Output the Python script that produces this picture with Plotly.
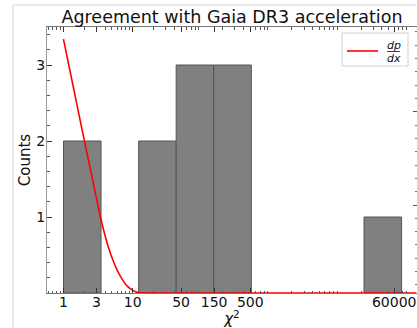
import plotly.graph_objects as go
import numpy as np

# ---- data ----
tick_vals = [1, 3, 10, 50, 150, 500, 60000]
tick_text = ["1", "3", "10", "50", "150", "500", "60000"]
# logarithmic bin edges (chi^2)
bin_edges = [1.0, 3.49, 12.2, 42.5, 148, 518, 1808, 6310, 22000, 76800]
bin_counts = [2, 0, 2, 3, 3, 0, 0, 0, 1]

curve_x = [1.0, 1.366, 1.866, 2.55, 3.07, 3.48, 3.95, 4.47, 5.19, 6.11, 7.18, 8.34, 10.07, 12.1, 14.6, 125000]
curve_y = [3.34, 2.74, 2.14, 1.55, 1.2, 0.97, 0.77, 0.6, 0.43, 0.28, 0.17, 0.09, 0.035, 0.005, 0.0, 0.0]

W, H = 417, 328
L, R, T, B = 47, 0, 27, 35
FONT = "DejaVu Sans"

fig = go.Figure()

# histogram bars drawn as filled rectangles between log edges
for lo, hi, c in zip(bin_edges[:-1], bin_edges[1:], bin_counts):
    if c > 0:
        fig.add_trace(go.Scatter(
            x=[lo, lo, hi, hi, lo], y=[0, c, c, 0, 0], mode="lines", fill="toself",
            fillcolor="#808080", line=dict(color="#555555", width=1),
            showlegend=False, hoverinfo="skip"))

fig.add_trace(go.Scatter(
    x=curve_x, y=curve_y, mode="lines", line=dict(color="red", width=1.6, shape="spline", smoothing=0.6),
    showlegend=False, hoverinfo="skip"))

# empty trace to show right-hand tick axis
fig.add_trace(go.Scatter(x=[None], y=[None], yaxis="y2", showlegend=False, hoverinfo="skip"))

minor_x = [k * 10.0 ** n for n in range(-1, 6) for k in range(2, 10)]

fig.update_layout(
    width=W, height=H, margin=dict(l=L, r=R, t=T, b=B, autoexpand=False),
    paper_bgcolor="white", plot_bgcolor="white",
    font=dict(family=FONT, size=14, color="#111"),
    title=dict(text="Agreement with Gaia DR3 acceleration", x=0.5, xref="paper",
               y=1 - 17 / H, yref="container", yanchor="middle", xanchor="center",
               font=dict(size=17.5, family=FONT, color="#111")),
    xaxis=dict(type="log", range=[-0.238, 5.108], tickmode="array", tickvals=tick_vals, ticktext=tick_text,
               ticks="inside", ticklen=5, tickcolor="#333", showgrid=False, zeroline=False,
               showline=True, linecolor="#777", linewidth=1, mirror="ticks", automargin=False,
               tickfont=dict(size=14), ticklabelstandoff=-4, ticklabeloverflow="allow",
               minor=dict(tickmode="array", tickvals=minor_x, ticks="inside", ticklen=2.5, tickcolor="#555"),
               title=dict(text="<i>χ</i><sup>2</sup>", standoff=2, font=dict(size=15))),
    yaxis=dict(range=[0, 3.5], tickvals=[1, 2, 3], ticks="inside", ticklen=5, tickcolor="#333",
               showgrid=False, zeroline=False, showline=True, linecolor="#999", linewidth=1,
               tickfont=dict(size=14), automargin=False, ticklabelstandoff=-2,
               minor=dict(dtick=0.2, ticks="inside", ticklen=2.5, tickcolor="#555"),
               title=dict(text="Counts", standoff=2, font=dict(size=15))),
    yaxis2=dict(overlaying="y", side="right", range=[0, H - T - B], showgrid=False, zeroline=False,
                showline=False, showticklabels=False, ticks="inside", ticklen=4, tickcolor="#555",
                tick0=88, dtick=93.33, automargin=False,
                minor=dict(tick0=88, dtick=13.33, ticks="inside", ticklen=2, tickcolor="#777")),
)

pw, ph = W - L - R, H - T - B
def px(x): return (x - L) / pw
def py(y): return 1 - (y - T) / ph

# figure frame lines (light gray, top and left)
fig.add_shape(type="line", xref="paper", yref="paper", x0=px(13), x1=px(417), y0=py(5), y1=py(5),
              line=dict(color="#e3e3e3", width=1.5))
fig.add_shape(type="line", xref="paper", yref="paper", x0=px(13), x1=px(13), y0=py(328), y1=py(5),
              line=dict(color="#e3e3e3", width=1.5))

# legend (manual, to render dp/dx as a fraction)
fig.add_shape(type="rect", xref="paper", yref="paper", x0=px(342), x1=px(408), y0=py(66), y1=py(33),
              line=dict(color="#d0d0d0", width=1), fillcolor="rgba(255,255,255,0.85)")
fig.add_shape(type="line", xref="paper", yref="paper", x0=px(347), x1=px(378), y0=py(51), y1=py(51),
              line=dict(color="red", width=1.6))
fig.add_shape(type="line", xref="paper", yref="paper", x0=px(387), x1=px(400), y0=py(51.5), y1=py(51.5),
              line=dict(color="#111", width=0.8))
fig.add_annotation(text="<i>dp</i>", xref="paper", yref="paper", x=px(393.5), y=py(45), showarrow=False,
                   font=dict(size=11, family=FONT, color="#111"), xanchor="center", yanchor="middle")
fig.add_annotation(text="<i>dx</i>", xref="paper", yref="paper", x=px(393.5), y=py(58.5), showarrow=False,
                   font=dict(size=11, family=FONT, color="#111"), xanchor="center", yanchor="middle")

fig.write_html("out.html", config={"displayModeBar": False},
               post_script="document.body.style.margin='0';document.body.style.overflow='hidden';")
